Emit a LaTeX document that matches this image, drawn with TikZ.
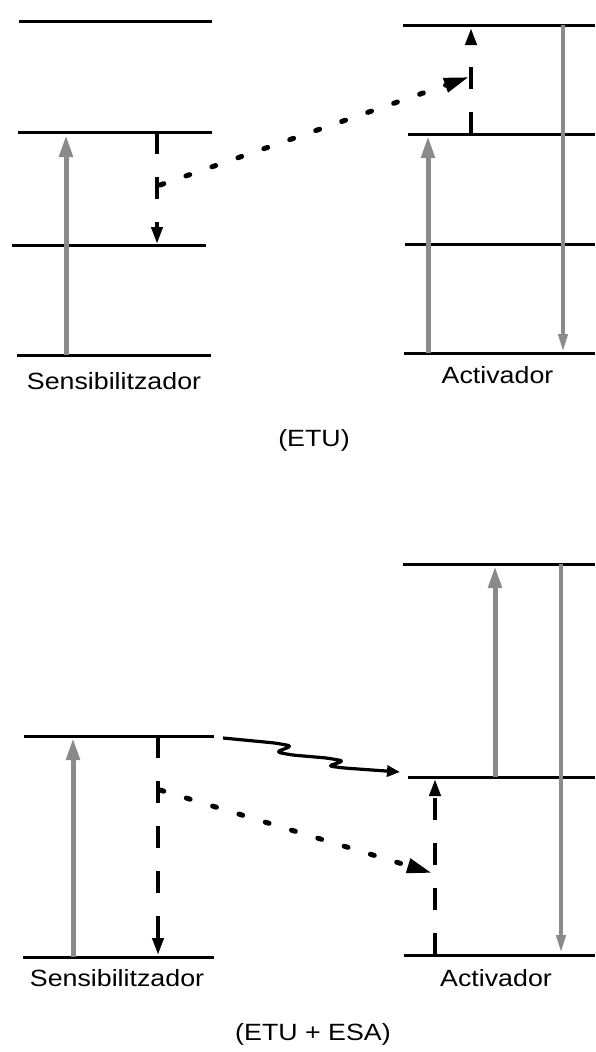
\documentclass[tikz,border=0pt]{standalone}
\usepackage{graphicx}
\usepackage{fontspec}
\setmainfont{Liberation Sans}
\usetikzlibrary{arrows.meta}
\definecolor{arrgray}{RGB}{138,138,138}
\tikzset{
  level/.style={line width=3pt, black},
  pump/.style={line width=5pt, arrgray, -{Triangle[length=22pt,width=13pt]}},
  emit/.style={line width=4pt, arrgray, -{Triangle[length=18pt,width=9pt]}},
  relax/.style={line width=4pt, black, dash pattern=on 22pt off 23pt, -{Triangle[length=17pt,width=11pt]}},
  transfer/.style={line width=5pt, black, line cap=round, dash pattern=on 4pt off 23.5pt, -{Triangle[length=25pt,width=14pt]}},
  wavy/.style={line width=3.2pt, black, rounded corners=5pt, -{Triangle[length=13pt,width=11pt]}},
  lbl/.style={inner sep=0pt, anchor=base, font=\fontsize{23.5pt}{28pt}\selectfont}
}
\newcommand{\wide}[1]{\scalebox{1.14}[1]{#1}}
\begin{document}
\begin{tikzpicture}[x=1pt,y=-1pt]
\useasboundingbox (0,0) rectangle (595,1052);
% ---------------- top diagram (ETU) ----------------
% sensitizer levels
\coordinate (s1l) at (19,21);  \coordinate (s1r) at (212,21);
\coordinate (s2l) at (18,132); \coordinate (s2r) at (212,132);
\coordinate (s3l) at (12,245); \coordinate (s3r) at (206,245);
\coordinate (s4l) at (17,355); \coordinate (s4r) at (211,355);
\draw[level] (s1l) -- (s1r);
\draw[level] (s2l) -- (s2r);
\draw[level] (s3l) -- (s3r);
\draw[level] (s4l) -- (s4r);
% activator levels
\coordinate (a1l) at (403,25);  \coordinate (a1r) at (595,25);
\coordinate (a2l) at (408,134); \coordinate (a2r) at (595,134);
\coordinate (a3l) at (405,244); \coordinate (a3r) at (595,244);
\coordinate (a4l) at (404,353); \coordinate (a4r) at (595,353);
\draw[level] (a1l) -- (a1r);
\draw[level] (a2l) -- (a2r);
\draw[level] (a3l) -- (a3r);
\draw[level] (a4l) -- (a4r);
% arrows
\coordinate (sp0) at (66,355);  \coordinate (sp1) at (66,135);
\draw[pump] (sp0) -- (sp1);
\coordinate (sr0) at (157,132); \coordinate (sr1) at (157,244);
\draw[relax] (sr0) -- (sr1);
\coordinate (ap0) at (428,353); \coordinate (ap1) at (428,136);
\draw[pump] (ap0) -- (ap1);
\coordinate (ae0) at (563,25);  \coordinate (ae1) at (563,352);
\draw[emit] (ae0) -- (ae1);
\coordinate (au0) at (471,134); \coordinate (au1) at (471,28);
\draw[relax] (au0) -- (au1);
\coordinate (t0) at (160,185); \coordinate (t1) at (469,77);
\draw[transfer] (t0) -- (t1);
% labels
\node[lbl] (sensA) at (114,389) {\wide{Sensibilitzador}};
\node[lbl] (actA) at (497.5,383) {\wide{Activador}};
\node[lbl] (etu) at (314,446) {\wide{(ETU)}};
% ---------------- bottom diagram (ETU + ESA) ----------------
\coordinate (b1l) at (24,736);  \coordinate (b1r) at (214,736);
\coordinate (b2l) at (23,957);  \coordinate (b2r) at (214,957);
\draw[level] (b1l) -- (b1r);
\draw[level] (b2l) -- (b2r);
\coordinate (c1l) at (403,564); \coordinate (c1r) at (595,564);
\coordinate (c2l) at (408,777); \coordinate (c2r) at (595,777);
\coordinate (c3l) at (404,955); \coordinate (c3r) at (595,955);
\draw[level] (c1l) -- (c1r);
\draw[level] (c2l) -- (c2r);
\draw[level] (c3l) -- (c3r);
\coordinate (bp0) at (73,957);  \coordinate (bp1) at (73,738);
\draw[pump] (bp0) -- (bp1);
\coordinate (br0) at (158,736); \coordinate (br1) at (158,955);
\draw[relax] (br0) -- (br1);
\coordinate (bt0) at (160,790); \coordinate (bt1) at (432,873);
\draw[transfer] (bt0) -- (bt1);
\coordinate (w0) at (223,738); \coordinate (w1) at (400,772);
\draw[wavy] (w0) -- (275,743) -- (292,746) -- (276,752) -- (292,755) -- (327,758) -- (344,761) -- (328,766) -- (344,768) -- (w1);
\coordinate (cp0) at (495,777); \coordinate (cp1) at (495,566);
\draw[pump] (cp0) -- (cp1);
\coordinate (ce0) at (561,564); \coordinate (ce1) at (561,953);
\draw[emit] (ce0) -- (ce1);
\coordinate (cu0) at (435,955); \coordinate (cu1) at (435,779);
\draw[relax] (cu0) -- (cu1);
\node[lbl] (sensB) at (117,986) {\wide{Sensibilitzador}};
\node[lbl] (actB) at (496,986) {\wide{Activador}};
\node[lbl] (etuesa) at (313,1040) {\wide{(ETU + ESA)}};
\end{tikzpicture}
\end{document}
